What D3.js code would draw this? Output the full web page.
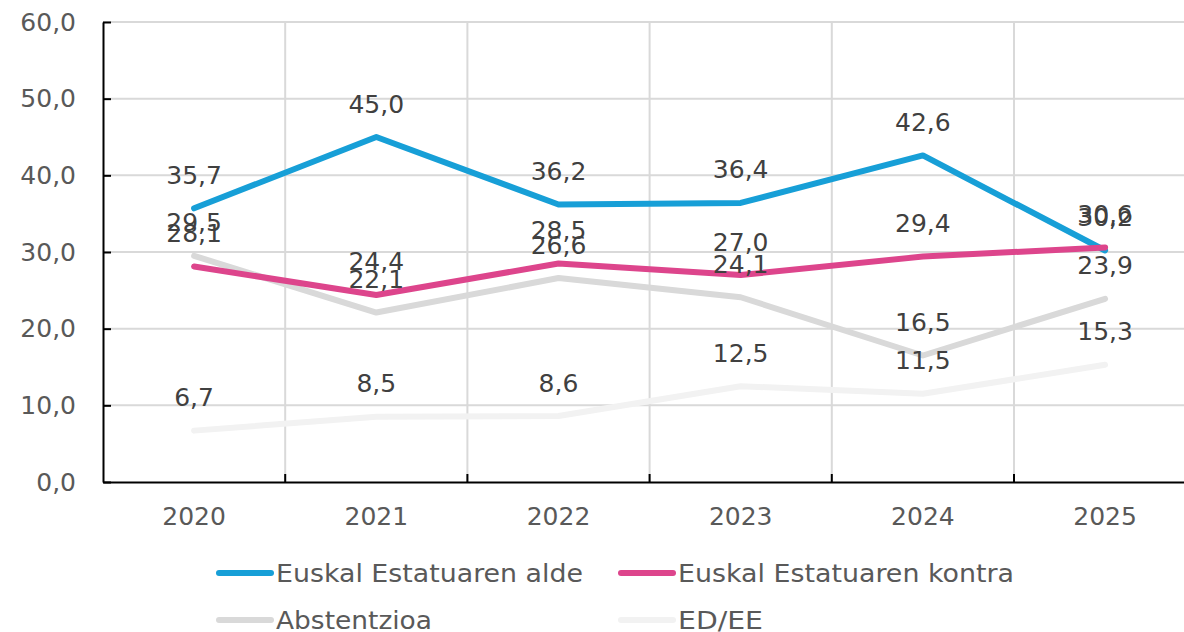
<!DOCTYPE html>
<html>
<head>
<meta charset="utf-8">
<script src="https://cdn.jsdelivr.net/npm/d3@7"></script>
<style>
  body { margin: 0; background: #fff; }
  svg { display: block; font-family: "DejaVu Sans", Verdana, sans-serif; }
</style>
</head>
<body>
<svg width="1184" height="632"></svg>
<script>
// Data
var years = ["2020", "2021", "2022", "2023", "2024", "2025"];
var alde = [35.7, 45.0, 36.2, 36.4, 42.6, 30.2];
var kontra = [28.1, 24.4, 28.5, 27.0, 29.4, 30.6];
var abstentzioa = [29.5, 22.1, 26.6, 24.1, 16.5, 23.9];
var edee = [6.7, 8.5, 8.6, 12.5, 11.5, 15.3];
var yTicks = [0, 10, 20, 30, 40, 50, 60];

var series = [
  { name: "Euskal Estatuaren alde", values: alde, color: "#179fd7", legendW: 307 },
  { name: "Euskal Estatuaren kontra", values: kontra, color: "#dd458c", legendW: 336 },
  { name: "Abstentzioa", values: abstentzioa, color: "#d9d9d9", legendW: 156 },
  { name: "ED/EE", values: edee, color: "#f2f2f2", legendW: 85 }
];

var FONT = "'DejaVu Sans', Verdana, sans-serif";

var svg = d3.select("svg"),
  margin = { left: 103, top: 22, bottom: 482 },
  band = 182.2;

var xScale = d3.scaleBand().domain(years).range([margin.left, margin.left + band * years.length]);
var yScale = d3.scaleLinear().domain([0, 60]).range([margin.bottom, margin.top]);
var fmt = function (v) { return d3.format(".1f")(v).replace(".", ","); };

// Gridlines
svg.append("g").selectAll("line")
  .data(yTicks.slice(1))
  .enter().append("line")
  .attr("x1", margin.left).attr("x2", xScale.range()[1])
  .attr("y1", function (d) { return yScale(d); })
  .attr("y2", function (d) { return yScale(d); })
  .attr("stroke", "#d9d9d9").attr("stroke-width", 2);

svg.append("g").selectAll("line")
  .data(years.slice(1))
  .enter().append("line")
  .attr("x1", function (d) { return xScale(d); })
  .attr("x2", function (d) { return xScale(d); })
  .attr("y1", margin.top).attr("y2", margin.bottom)
  .attr("stroke", "#d9d9d9").attr("stroke-width", 2);

// Y axis
var yAxis = d3.axisLeft(yScale).tickValues(yTicks).tickSizeInner(-8).tickSizeOuter(0).tickPadding(27).tickFormat(fmt);
var gy = svg.append("g").attr("transform", "translate(" + margin.left + ",0)").call(yAxis)
  .attr("font-family", FONT).attr("font-size", 25);
gy.select(".domain").attr("stroke", "#000").attr("stroke-width", 2);
gy.selectAll(".tick line").attr("stroke", "#000").attr("stroke-width", 2);
gy.selectAll(".tick text").attr("fill", "#595959");

// X axis
var gx = svg.append("g").attr("transform", "translate(0," + margin.bottom + ")")
  .call(d3.axisBottom(xScale).tickSize(0).tickPadding(25))
  .attr("font-family", FONT).attr("font-size", 25);
gx.select(".domain").attr("stroke", "#000").attr("stroke-width", 2);
gx.selectAll(".tick text").attr("fill", "#595959");
svg.append("g").selectAll("line")
  .data(years.slice(1))
  .enter().append("line")
  .attr("x1", function (d) { return xScale(d); })
  .attr("x2", function (d) { return xScale(d); })
  .attr("y1", margin.bottom).attr("y2", margin.bottom - 8)
  .attr("stroke", "#000").attr("stroke-width", 2);

// Lines
var line = d3.line()
  .x(function (d, i) { return xScale(years[i]) + xScale.bandwidth() / 2; })
  .y(function (d) { return yScale(d); });

var drawOrder = [series[3], series[2], series[0], series[1]];
drawOrder.forEach(function (s) {
  svg.append("path")
    .datum(s.values)
    .attr("d", line)
    .attr("fill", "none")
    .attr("stroke", s.color)
    .attr("stroke-width", 6)
    .attr("stroke-linejoin", "round")
    .attr("stroke-linecap", "round");
});

// Data labels
series.forEach(function (s) {
  svg.append("g").selectAll("text")
    .data(s.values)
    .enter().append("text")
    .attr("x", function (d, i) { return xScale(years[i]) + xScale.bandwidth() / 2; })
    .attr("y", function (d) { return yScale(d) - 33; })
    .attr("text-anchor", "middle")
    .attr("dominant-baseline", "central")
    .attr("fill", "#404040")
    .style("font-size", "25px")
    .text(fmt);
});

// Legend
var legendPos = [[219, 573], [621, 573], [219, 620], [621, 620]];
series.forEach(function (s, i) {
  var g = svg.append("g").attr("transform", "translate(" + legendPos[i][0] + "," + legendPos[i][1] + ")");
  g.append("line")
    .attr("x1", 0).attr("x2", 52)
    .attr("stroke", s.color).attr("stroke-width", 6)
    .attr("stroke-linecap", "round");
  g.append("text")
    .attr("x", 57)
    .attr("dominant-baseline", "central")
    .attr("fill", "#595959")
    .style("font-size", "25px")
    .attr("textLength", s.legendW)
    .attr("lengthAdjust", "spacingAndGlyphs")
    .text(s.name);
});
</script>
</body>
</html>
